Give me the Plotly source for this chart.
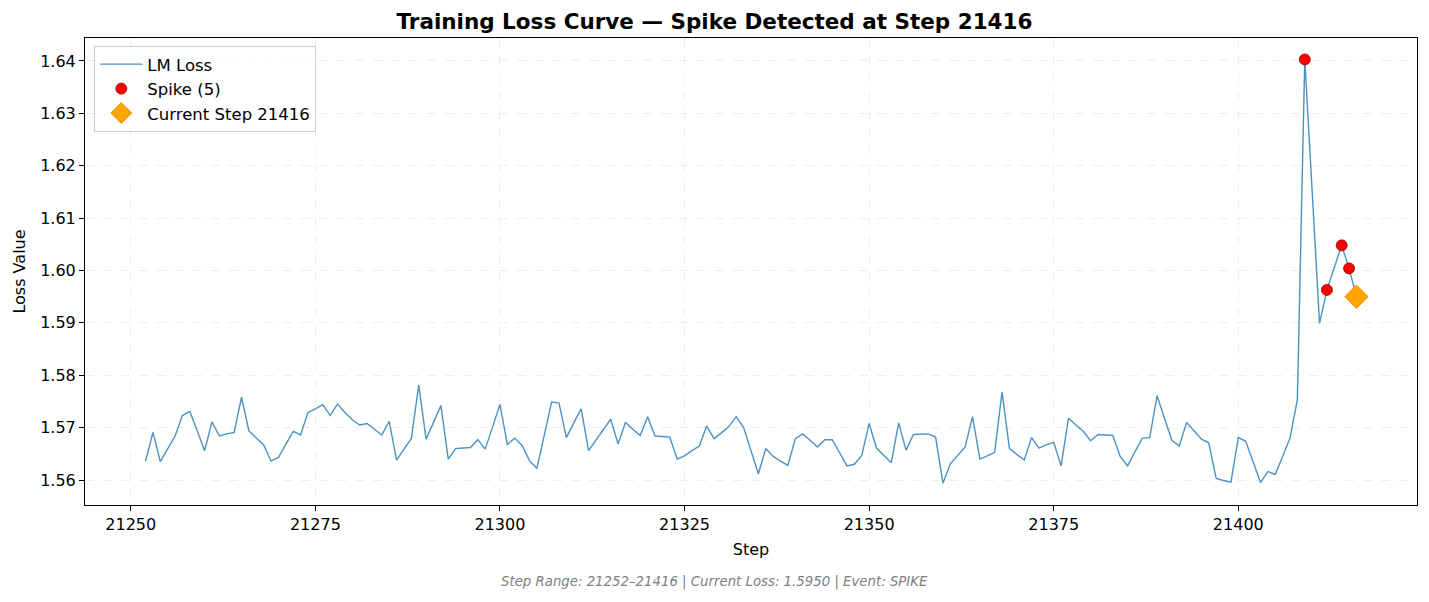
import plotly.graph_objects as go

# loss values, one per step from 21252 to 21416
first_step = 21252
loss = [
    1.5636, 1.5691, 1.5635, 1.5659, 1.5684, 1.5723, 1.5731, 1.5694, 1.5656, 1.5711,
    1.5684, 1.5688, 1.5691, 1.5758, 1.5694, 1.5680, 1.5667, 1.5636, 1.5643, 1.5668,
    1.5693, 1.5686, 1.5729, 1.5736, 1.5744, 1.5723, 1.5745, 1.5729, 1.5715, 1.5705,
    1.5708, 1.5697, 1.5686, 1.5712, 1.5638, 1.5659, 1.5679, 1.5781, 1.5678, 1.5710,
    1.5742, 1.5640, 1.5660, 1.5661, 1.5662, 1.5677, 1.5659, 1.5701, 1.5744, 1.5668,
    1.5680, 1.5666, 1.5637, 1.5622, 1.5685, 1.5749, 1.5747, 1.5681, 1.5709, 1.5736,
    1.5656, 1.5676, 1.5697, 1.5716, 1.5669, 1.5710, 1.5697, 1.5685, 1.5721, 1.5684,
    1.5683, 1.5682, 1.5640, 1.5646, 1.5656, 1.5665, 1.5703, 1.5679, 1.5690, 1.5702,
    1.5721, 1.5700, 1.5656, 1.5612, 1.5660, 1.5645, 1.5636, 1.5628, 1.5679, 1.5688,
    1.5676, 1.5663, 1.5677, 1.5677, 1.5652, 1.5627, 1.5630, 1.5647, 1.5708, 1.5661,
    1.5647, 1.5633, 1.5709, 1.5657, 1.5687, 1.5687, 1.5688, 1.5682, 1.5594, 1.5631,
    1.5647, 1.5663, 1.5721, 1.5640, 1.5646, 1.5653, 1.5768, 1.5660, 1.5649, 1.5638,
    1.5681, 1.5661, 1.5667, 1.5672, 1.5627, 1.5718, 1.5705, 1.5693, 1.5675, 1.5687,
    1.5686, 1.5685, 1.5645, 1.5627, 1.5654, 1.5680, 1.5681, 1.5761, 1.5718, 1.5676,
    1.5665, 1.5710, 1.5694, 1.5678, 1.5671, 1.5603, 1.5599, 1.5596, 1.5681, 1.5674,
    1.5635, 1.5595, 1.5616, 1.5611, 1.5645, 1.5680, 1.5754, 1.6403, 1.6151, 1.5899,
    1.5963, 1.6005, 1.6048, 1.6004, 1.5950,
]
steps = list(range(first_step, first_step + len(loss)))

spike_steps = [21409, 21412, 21414, 21415, 21416]
spike_loss = [loss[s - first_step] for s in spike_steps]

current_step = steps[-1]
current_loss = loss[-1]

x_ticks = [21250, 21275, 21300, 21325, 21350, 21375, 21400]
y_ticks = [1.56, 1.57, 1.58, 1.59, 1.60, 1.61, 1.62, 1.63, 1.64]

font = "DejaVu Sans"
W, H = 1429, 602
ML, MR, MT, MB = 85, 12, 38, 97

fig = go.Figure()

fig.add_trace(go.Scatter(
    x=steps, y=loss,
    mode="lines",
    name="LM Loss",
    line=dict(color="rgba(31,119,180,0.8)", width=1.4),
))

fig.add_trace(go.Scatter(
    x=spike_steps, y=spike_loss,
    mode="markers",
    name=f"Spike ({len(spike_steps)})",
    marker=dict(color="red", size=11, line=dict(color="darkred", width=0.8)),
))

fig.add_trace(go.Scatter(
    x=[current_step], y=[current_loss],
    mode="markers",
    name=f"Current Step {current_step}",
    marker=dict(color="orange", symbol="diamond", size=18,
                line=dict(color="darkorange", width=1)),
))

axis_common = dict(
    showline=True, linecolor="black", linewidth=1, mirror=True,
    ticks="outside", ticklen=5, tickcolor="black",
    showgrid=True, gridcolor="rgba(200,200,200,0.3)", griddash="dash", gridwidth=1,
    zeroline=False, automargin=False,
    tickfont=dict(family=font, size=16, color="black"),
)

fig.update_xaxes(
    range=[21243.8, 21424.2],
    tickvals=x_ticks,
    tickformat="d",
    title=dict(text="Step", font=dict(family=font, size=16, color="black"), standoff=10),
    **axis_common,
)
fig.update_yaxes(
    range=[1.55523, 1.64439],
    tickvals=y_ticks,
    tickformat=".2f",
    title=dict(text="Loss Value", font=dict(family=font, size=16, color="black"), standoff=10),
    **axis_common,
)

fig.update_layout(
    width=W, height=H,
    margin=dict(l=ML, r=MR, t=MT, b=MB),
    paper_bgcolor="white",
    plot_bgcolor="white",
    font=dict(family=font, size=16, color="black"),
    title=dict(
        text="<b>Training Loss Curve — Spike Detected at Step 21416</b>",
        x=0.5, xanchor="center", y=1 - 21 / H, yanchor="middle",
        font=dict(family=font, size=21.5, color="black"),
    ),
    legend=dict(
        x=0.007, y=0.983, xanchor="left", yanchor="top",
        bgcolor="rgba(255,255,255,0.8)",
        bordercolor="#cccccc", borderwidth=1,
        font=dict(family=font, size=16.5, color="black"),
        itemsizing="trace",
        itemwidth=42,
    ),
    showlegend=True,
)

# footer centred on the whole figure
plot_w = W - ML - MR
plot_h = H - MT - MB
fig.add_annotation(
    text=f"<i>Step Range: {steps[0]}–{steps[-1]} | Current Loss: {current_loss:.4f} | Event: SPIKE</i>",
    xref="paper", yref="paper",
    x=(W / 2 - ML) / plot_w, y=-(582 - (H - MB)) / plot_h,
    xanchor="center", yanchor="middle",
    showarrow=False,
    font=dict(family=font, size=13.3, color="gray"),
)

fig.write_html(
    "out.html",
    config={"displayModeBar": False},
    post_script="document.body.style.margin='0';",
)
